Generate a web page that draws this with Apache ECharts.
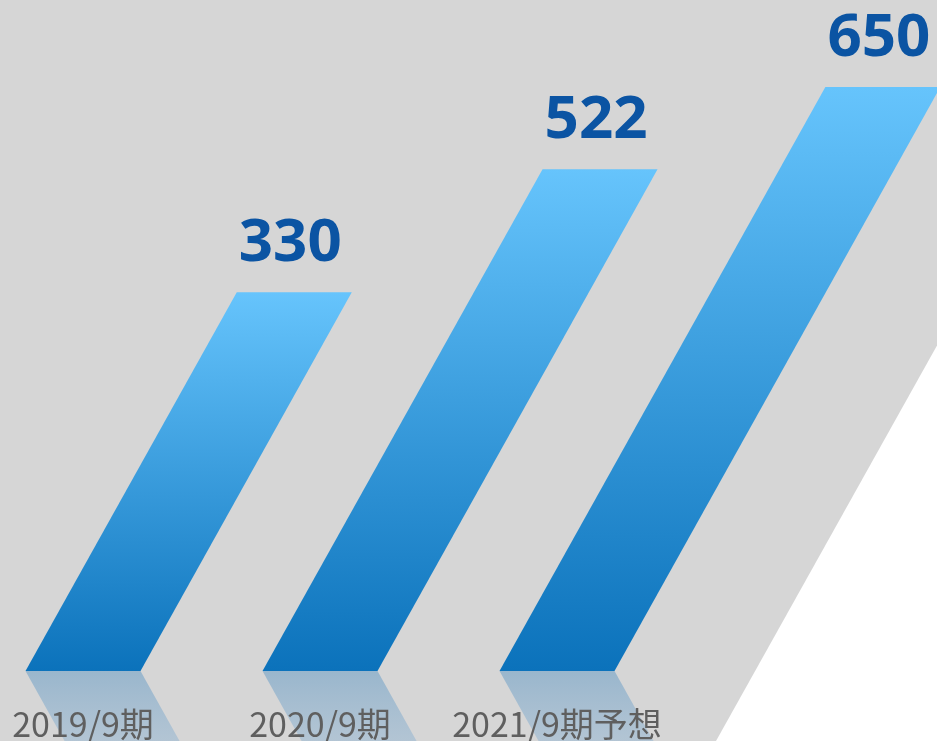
<!DOCTYPE html>
<html>
<head>
<meta charset="utf-8">
<script src="https://cdn.jsdelivr.net/npm/echarts@6/dist/echarts.min.js"></script>
<style>
  html, body { margin: 0; padding: 0; background: #ffffff; }
  #chart { width: 937px; height: 741px; }
</style>
</head>
<body>
<div id="chart"></div>
<script>
// Fiscal periods and their values
const categories = ['2019/9期', '2020/9期', '2021/9期予想'];
const values = [330, 522, 650];

// Value axis range (bars rise from a raised baseline)
const axisMin = -260;
const axisMax = 650;

// Horizontal shift per pixel of height for the slanted bars
const SKEW = 0.558;
const BAR_WIDTH = 115;
const REFLECT_DEPTH = 90;

const chart = echarts.init(document.getElementById('chart'), null, { renderer: 'canvas' });

function renderBar(params, api) {
  const idx = api.value(0);
  const val = api.value(1);
  const base = api.coord([idx, axisMin]);
  const top = api.coord([idx, val]);
  const h = base[1] - top[1];
  const bx = base[0];
  const by = base[1];
  const ty = top[1];
  const half = BAR_WIDTH / 2;
  const shift = SKEW * h;

  const bar = {
    type: 'polygon',
    shape: {
      points: [
        [bx - half, by],
        [bx + half, by],
        [bx + half + shift, ty],
        [bx - half + shift, ty]
      ]
    },
    style: {
      fill: new echarts.graphic.LinearGradient(0, 0, 0, 1, [
        { offset: 0, color: '#66c4fc' },
        { offset: 1, color: '#0b72bb' }
      ])
    }
  };

  const rs = SKEW * REFLECT_DEPTH;
  const reflection = {
    type: 'polygon',
    shape: {
      points: [
        [bx - half, by],
        [bx + half, by],
        [bx + half + rs, by + REFLECT_DEPTH],
        [bx - half + rs, by + REFLECT_DEPTH]
      ]
    },
    style: {
      fill: new echarts.graphic.LinearGradient(0, 0, 0, 1, [
        { offset: 0, color: 'rgba(25,115,185,0.32)' },
        { offset: 1, color: 'rgba(80,150,210,0.22)' }
      ])
    }
  };

  const label = {
    type: 'text',
    style: {
      text: String(val),
      x: bx + shift - 4,
      y: ty - 48,
      align: 'center',
      verticalAlign: 'middle',
      fill: '#0b54a3',
      font: 'bold 60px "Noto Sans", sans-serif'
    }
  };

  return { type: 'group', children: [reflection, bar, label] };
}

const option = {
  backgroundColor: '#ffffff',
  animation: false,
  graphic: [
    {
      type: 'polygon',
      z: -10,
      silent: true,
      shape: { points: [[0, 0], [1130, 0], [716, 741], [0, 741]] },
      style: { fill: '#d6d6d6' }
    }
  ],
  grid: { left: 83, right: 380, top: 87, bottom: 69 },
  xAxis: {
    type: 'category',
    data: categories,
    boundaryGap: false,
    z: 5,
    axisLine: { show: false },
    axisTick: { show: false },
    splitLine: { show: false },
    axisLabel: {
      interval: 0,
      margin: 36,
      color: '#5f5f5f',
      fontSize: 34,
      fontFamily: '"Noto Sans CJK JP", sans-serif'
    }
  },
  yAxis: {
    type: 'value',
    min: axisMin,
    max: axisMax,
    show: false
  },
  series: [
    {
      type: 'custom',
      z: 2,
      clip: false,
      renderItem: renderBar,
      data: values.map((v, i) => [i, v])
    }
  ]
};

chart.setOption(option);
</script>
</body>
</html>
